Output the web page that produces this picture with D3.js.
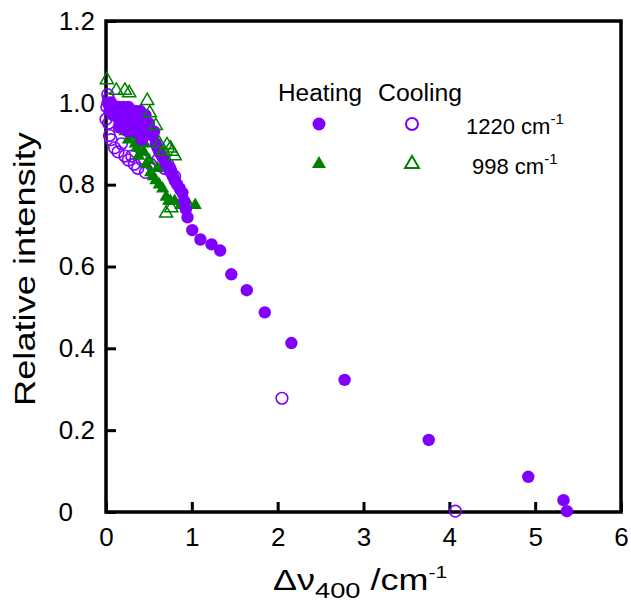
<!DOCTYPE html>
<html><head><meta charset="utf-8">
<script src="https://cdn.jsdelivr.net/npm/d3@7"></script>
<style>body{margin:0;background:#fff}svg{display:block;font-family:"Liberation Sans",Arial,sans-serif}</style>
</head><body><svg id="c" width="631" height="604"></svg>
<script>
// Heating, 1220 cm-1 (filled circles) [Δν, relative intensity]
const heat1220 = [
[0.02,1.00],[0.04,0.98],[0.06,1.00],[0.08,0.97],[0.10,0.99],[0.12,0.97],[0.14,0.99],[0.16,0.96],[0.18,0.98],[0.20,0.99],
[0.22,0.97],[0.24,0.95],[0.26,0.99],[0.28,0.97],[0.30,0.98],[0.32,0.96],[0.34,0.98],[0.36,0.95],[0.38,0.97],[0.40,0.98],
[0.42,0.96],[0.44,0.93],[0.46,0.97],[0.48,0.94],[0.50,0.95],[0.52,0.93],[0.54,0.92],[0.56,0.93],[0.58,0.90],[0.60,0.89],
[0.62,0.88],[0.65,0.87],[0.68,0.86],[0.70,0.85],[0.73,0.84],[0.75,0.84],[0.78,0.82],[0.80,0.81],[0.83,0.80],[0.86,0.79],
[0.89,0.78],[0.91,0.76],[0.93,0.74],[0.95,0.72],[0.15,0.94],[0.25,0.93],[0.33,0.93],[0.42,0.91],
[1.005,0.689],[1.10,0.666],[1.23,0.654],[1.33,0.639],[1.46,0.581],[1.64,0.542],[1.85,0.488],[2.16,0.413],
[2.78,0.323],[3.76,0.176],[4.92,0.086],[5.33,0.029],[5.37,0.002]
];
// Cooling, 1220 cm-1 (open circles)
const cool1220 = [
[0.00,0.96],[0.01,0.99],[0.02,1.02],[0.03,1.01],[0.05,1.00],[0.03,0.95],[0.04,0.92],[0.06,0.91],[0.10,0.89],[0.14,0.88],
[0.18,0.90],[0.22,0.87],[0.26,0.86],[0.30,0.87],[0.33,0.85],[0.37,0.84],[0.42,0.86],[0.46,0.83],[0.52,0.85],[0.60,0.86],
[0.68,0.84],[0.72,0.85],[0.76,0.83],[0.80,0.82],[2.05,0.278],[4.07,0.002]
];
// Heating, 998 cm-1 (filled triangles)
const heat998 = [
[0.16,0.94],[0.22,0.93],[0.26,0.91],[0.30,0.92],[0.34,0.90],[0.36,0.89],[0.40,0.91],[0.38,0.87],[0.44,0.88],[0.45,0.90],
[0.47,0.85],[0.50,0.86],[0.52,0.83],[0.55,0.82],[0.58,0.81],[0.60,0.84],[0.62,0.80],[0.66,0.79],[0.70,0.77],[0.73,0.76],
[0.75,0.76],[0.80,0.76],[0.87,0.75],[0.94,0.76],[1.04,0.75]
];
// Cooling, 998 cm-1 (open triangles)
const cool998 = [
[0.01,1.056],[0.12,1.03],[0.22,1.03],[0.27,1.024],[0.48,1.005],[0.51,0.975],[0.58,0.944],[0.62,0.90],[0.67,0.881],
[0.71,0.897],[0.75,0.889],[0.77,0.881],[0.80,0.87],[0.70,0.73],[0.76,0.743]
];
const xTicks = [0,1,2,3,4,5,6];
const yTicks = [0,0.2,0.4,0.6,0.8,1.0,1.2];
const legendHeaders = ["Heating","Cooling"];
const legendRows = [{label:"1220 cm",sup:"-1"},{label:"998 cm",sup:"-1"}];

const purple = "#8000ff", green = "#008000";
const svg = d3.select("#c");
const x = d3.scaleLinear().domain([0,6]).range([106,621]);
const y = d3.scaleLinear().domain([0,1.2]).range([512,21]);

// axes
const xa = svg.append("g").attr("transform","translate(0,512)")
  .call(d3.axisBottom(x).tickValues(xTicks).tickSize(-10).tickPadding(16).tickFormat(d3.format("d")));
const ya = svg.append("g").attr("transform","translate(106,0)")
  .call(d3.axisLeft(y).tickValues(yTicks).tickSize(-10).tickPadding(11).tickFormat(d=>d===0?"0":d3.format(".1f")(d)));
[xa,ya].forEach(g=>{
  g.select(".domain").remove();
  g.selectAll(".tick line").attr("stroke","#000").attr("stroke-width",3);
  g.selectAll(".tick text").attr("fill","#000").style("font-family",'"Liberation Sans",Arial,sans-serif').style("font-size","26px");
});
ya.selectAll(".tick text").filter(d=>d===0).attr("x",-33);
svg.append("rect").attr("x",x(0)).attr("y",y(1.2)).attr("width",x(6)-x(0)).attr("height",y(0)-y(1.2))
  .attr("fill","none").attr("stroke","#000").attr("stroke-width",3.5);

// marks
const tri = d3.symbol().type(d3.symbolTriangle).size(75);
svg.append("g").selectAll("circle").data(cool1220).join("circle")
  .attr("cx",d=>x(d[0])).attr("cy",d=>y(d[1])).attr("r",5.8)
  .attr("fill","none").attr("stroke",purple).attr("stroke-width",1.6);
svg.append("g").selectAll("path").data(heat998).join("path")
  .attr("d",tri).attr("transform",d=>`translate(${x(d[0])},${y(d[1])})`).attr("fill",green);
svg.append("g").selectAll("circle").data(heat1220).join("circle")
  .attr("cx",d=>x(d[0])).attr("cy",d=>y(d[1])).attr("r",6.2).attr("fill",purple);
svg.append("g").selectAll("path").data(cool998).join("path")
  .attr("d",tri).attr("transform",d=>`translate(${x(d[0])},${y(d[1])})`)
  .attr("fill","none").attr("stroke",green).attr("stroke-width",1.5);

// legend
const lg = svg.append("g").style("font-size","23px").attr("fill","#000");
lg.selectAll("text.h").data(legendHeaders).join("text").attr("class","h")
  .attr("x",(d,i)=>[278,378][i]).attr("y",101).attr("textLength",[84,84][0]).attr("lengthAdjust","spacingAndGlyphs").text(d=>d);
const ltri = d3.symbol().type(d3.symbolTriangle).size(85);
lg.append("circle").attr("cx",319).attr("cy",124).attr("r",6.5).attr("fill",purple);
lg.append("circle").attr("cx",412).attr("cy",124).attr("r",6).attr("fill","none").attr("stroke",purple).attr("stroke-width",2);
lg.append("path").attr("d",ltri).attr("transform","translate(319,164)").attr("fill",green);
lg.append("path").attr("d",ltri).attr("transform","translate(412,164)").attr("fill","none").attr("stroke",green).attr("stroke-width",2);
legendRows.forEach((r,i)=>{
  const t = lg.append("text").attr("x",[466,472][i]).attr("y",[134,174][i]).style("font-size","22px");
  t.append("tspan").text(r.label);
  t.append("tspan").attr("dy",-10).style("font-size","15px").text(r.sup);
});

// axis titles
svg.append("text").attr("transform","translate(35,269) rotate(-90)")
  .attr("text-anchor","middle").style("font-size","29px")
  .attr("textLength",274).attr("lengthAdjust","spacingAndGlyphs").text("Relative intensity");
const xt = svg.append("text").attr("transform","translate(273,590) scale(1.24,1)").style("font-size","29px");
xt.append("tspan").text("Δν");
xt.append("tspan").attr("dy",8).style("font-size","22px").text("400");
xt.append("tspan").attr("dy",-8).text(" /cm");
xt.append("tspan").attr("dy",-12).style("font-size","17px").text("-1");
</script></body></html>
